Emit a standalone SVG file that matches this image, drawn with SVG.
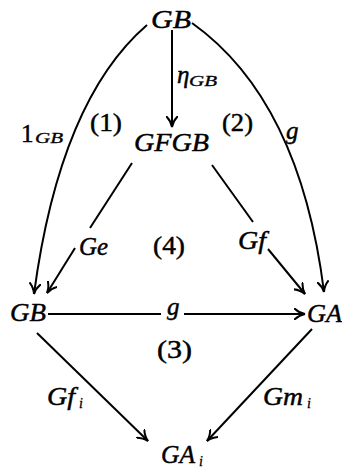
<svg xmlns="http://www.w3.org/2000/svg" width="342" height="470" viewBox="0 0 342 470">
<defs>
<marker id="ah" viewBox="0 0 12 12" refX="11" refY="6" markerWidth="12" markerHeight="12" markerUnits="userSpaceOnUse" orient="auto">
<path d="M0,0 Q5,5 11,6 Q5,7 0,12" fill="none" stroke="#000" stroke-width="2"/>
</marker>
</defs>
<style>
text{font-family:"Liberation Serif","DejaVu Serif",serif;fill:#000;stroke:#000;stroke-width:0.45}
.n{font-size:26px;font-style:italic}
.l{font-size:25px;font-style:italic}
.s{font-size:14px;font-style:italic;stroke-width:0.3}
.p{font-size:25px}
.c{fill:none;stroke:#000;stroke-width:2}
</style>
<rect width="342" height="470" fill="#fff"/>
<g id="connectors">
<path class="c" d="M147,25 Q60,100 34,294" marker-end="url(#ah)"/>
<path class="c" d="M192,23 Q300,100 324,292" marker-end="url(#ah)"/>
<path class="c" d="M172,30 L172,127" marker-end="url(#ah)"/>
<path class="c" d="M132,163 L90,228"/>
<path class="c" d="M75,248 L47,293" marker-end="url(#ah)"/>
<path class="c" d="M212,165 L253,222"/>
<path class="c" d="M268,249 L305,294" marker-end="url(#ah)"/>
<path class="c" d="M48,314 L161,314"/>
<path class="c" d="M184,314 L305,314" marker-end="url(#ah)"/>
<path class="c" d="M37,333 L148,441" marker-end="url(#ah)"/>
<path class="c" d="M312,329 L207,441" marker-end="url(#ah)"/>
</g>
<g id="GB_top"><text class="n" x="151" y="28" textLength="40" lengthAdjust="spacingAndGlyphs">GB</text></g>
<g id="GFGB"><text class="n" x="134" y="151" textLength="75" lengthAdjust="spacingAndGlyphs">GFGB</text></g>
<g id="GB_left"><text class="n" x="10" y="321" textLength="36" lengthAdjust="spacingAndGlyphs">GB</text></g>
<g id="GA_right"><text class="n" x="307" y="322" textLength="35" lengthAdjust="spacingAndGlyphs">GA</text></g>
<g id="GA_i"><text class="n" x="161" y="463" textLength="34" lengthAdjust="spacingAndGlyphs">GA</text><text class="s" x="199" y="466">i</text></g>
<g id="labels">
<text class="l" x="177" y="83">η</text><text class="s" x="189" y="86" textLength="28" lengthAdjust="spacingAndGlyphs">GB</text>
<text class="p" x="21" y="142">1</text><text class="s" x="35" y="143" textLength="28" lengthAdjust="spacingAndGlyphs">GB</text>
<text class="p" x="90" y="131" textLength="32" lengthAdjust="spacingAndGlyphs">(1)</text>
<text class="p" x="222" y="131" textLength="31" lengthAdjust="spacingAndGlyphs">(2)</text>
<text class="l" x="286" y="139">g</text>
<text class="l" x="79" y="255" textLength="29" lengthAdjust="spacingAndGlyphs">Ge</text>
<text class="p" x="153" y="254" textLength="32" lengthAdjust="spacingAndGlyphs">(4)</text>
<text class="l" x="238" y="249" textLength="28" lengthAdjust="spacingAndGlyphs">Gf</text>
<text class="l" x="167" y="315">g</text>
<text class="p" x="157" y="358" textLength="35" lengthAdjust="spacingAndGlyphs">(3)</text>
<text class="l" x="47" y="405" textLength="28" lengthAdjust="spacingAndGlyphs">Gf</text><text class="s" x="79" y="408">i</text>
<text class="l" x="263" y="405" textLength="40" lengthAdjust="spacingAndGlyphs">Gm</text><text class="s" x="307" y="408">i</text>
</g>
</svg>
